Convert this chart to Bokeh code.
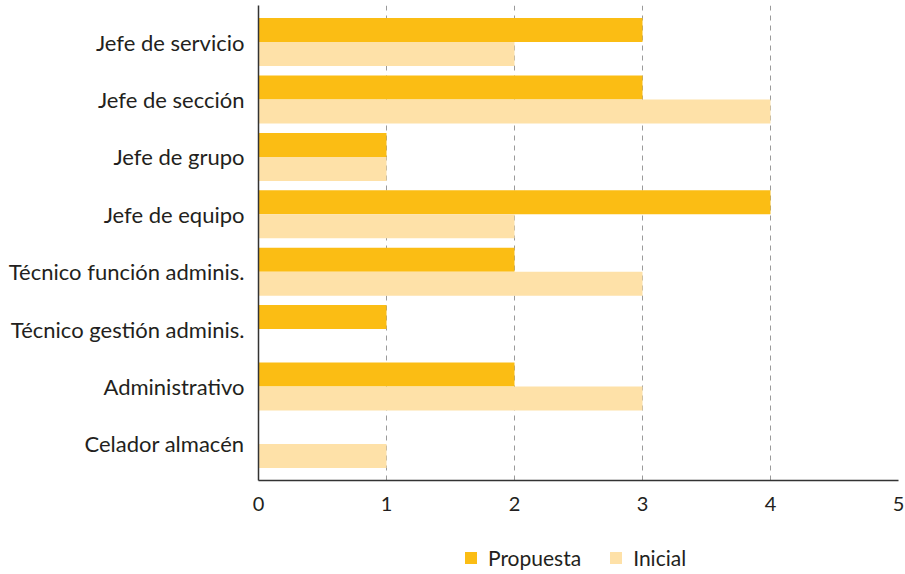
from bokeh.plotting import figure
from bokeh.layouts import column
from bokeh.models import ColumnDataSource, FactorRange, Legend, LegendItem, FixedTicker
from bokeh.transform import dodge
from bokeh.embed import file_html
from bokeh.resources import INLINE

categories = ["Jefe de servicio", "Jefe de sección", "Jefe de grupo", "Jefe de equipo",
              "Técnico función adminis.", "Técnico gestión adminis.", "Administrativo",
              "Celador almacén"]
propuesta = [3, 3, 1, 4, 2, 1, 2, 0]
inicial = [2, 4, 1, 2, 3, 0, 3, 1]
x_ticks = [0, 1, 2, 3, 4, 5]
series = ["Propuesta", "Inicial"]

FONT = "Lato"
TEXT = "#231f20"
C_PROP = "#fbbd14"
C_INI = "#fee1a8"

src = ColumnDataSource(dict(cat=categories, propuesta=propuesta, inicial=inicial))

p = figure(frame_width=640, frame_height=475, output_backend="svg", toolbar_location=None,
           y_range=FactorRange(factors=categories[::-1], range_padding=0.1375,
                               range_padding_units="absolute"),
           x_range=(0, 5),
           min_border_left=258, min_border_right=7, min_border_top=5, min_border_bottom=40)
p.outline_line_color = None

r1 = p.hbar(y=dodge("cat", 0.209, range=p.y_range), right="propuesta", left=0, height=0.418,
            source=src, color=C_PROP, line_color=None)
r2 = p.hbar(y=dodge("cat", -0.209, range=p.y_range), right="inicial", left=0, height=0.418,
            source=src, color=C_INI, line_color=None)

p.ygrid.grid_line_color = None
p.xgrid.ticker = FixedTicker(ticks=x_ticks[1:])
p.xgrid.grid_line_color = "#9a9a9a"
p.xgrid.grid_line_dash = "5 5"
p.xgrid.grid_line_width = 1

p.xaxis.ticker = FixedTicker(ticks=x_ticks)
for ax in (p.xaxis[0], p.yaxis[0]):
    ax.axis_line_color = "#333333"
    ax.axis_line_width = 1.5
    ax.major_tick_line_color = None
    ax.minor_tick_line_color = None
    ax.major_label_text_font = FONT
    ax.major_label_text_color = TEXT
p.xaxis.major_label_text_font_size = "20px"
p.xaxis.major_label_standoff = 10
p.yaxis.major_label_text_font_size = "22px"
p.yaxis.major_label_standoff = 8

# legend strip below the chart (its frame is aligned with the chart frame by the column)
lg = figure(frame_width=640, frame_height=54, output_backend="svg", toolbar_location=None,
            x_range=(0, 1), y_range=(0, 1), min_border_left=258, min_border_right=7,
            min_border_top=0, min_border_bottom=0)
lg.outline_line_color = None
lg.axis.visible = False
lg.grid.visible = False
# zero-width proxy bars: invisible, but give the legend something to draw swatches from
proxy = ColumnDataSource(dict(y=[0.5], right=[0]))
l1 = lg.hbar(y="y", right="right", left=0, height=0.5, source=proxy, color=C_PROP, line_color=None)
l2 = lg.hbar(y="y", right="right", left=0, height=0.5, source=proxy, color=C_INI, line_color=None)
legend = Legend(items=[LegendItem(label=series[0], renderers=[l1]),
                       LegendItem(label=series[1], renderers=[l2])],
                orientation="horizontal", location=(205, 4),
                label_text_font=FONT, label_text_font_size="21px", label_text_color=TEXT,
                glyph_width=15, glyph_height=15, label_standoff=10, spacing=27,
                border_line_color=None, background_fill_alpha=0, padding=0, margin=0)
lg.add_layout(legend, "center")

layout = column(p, lg, spacing=0)
open("out.html", "w").write(file_html(layout, INLINE))
